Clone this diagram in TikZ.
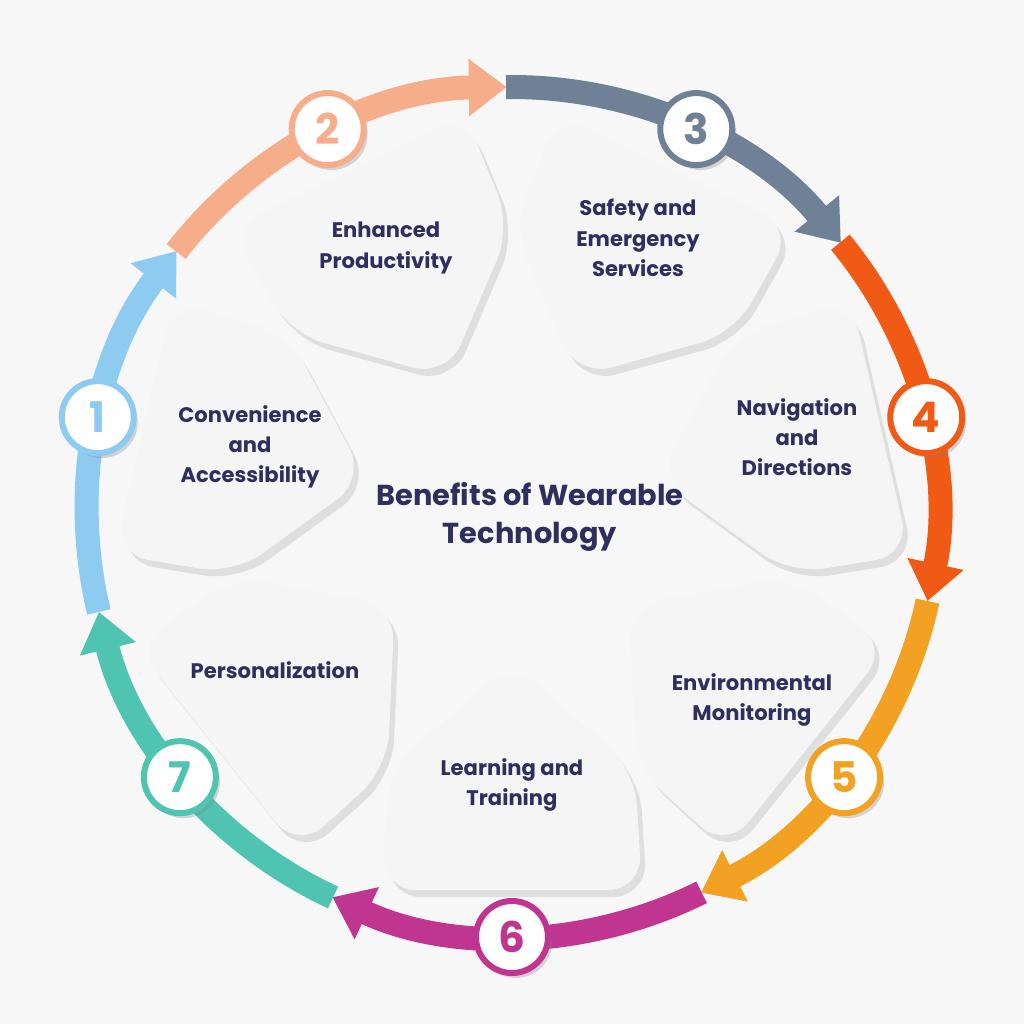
\documentclass[tikz,border=0pt]{standalone}
\usepackage{fontspec}
\setmainfont{Poppins}
\usetikzlibrary{arrows.meta,shadows}
\definecolor{bg}{HTML}{F7F7F7}
\definecolor{ink}{HTML}{2E2F5E}
\definecolor{cA}{HTML}{8DCBF0}
\definecolor{cB}{HTML}{F6AE8A}
\definecolor{cC}{HTML}{6E8197}
\definecolor{cD}{HTML}{F05A14}
\definecolor{cE}{HTML}{F2A122}
\definecolor{cF}{HTML}{C0358F}
\definecolor{cG}{HTML}{4FC4B0}
\begin{document}
\begin{tikzpicture}[card/.style={fill=white!92!gray, rounded corners=0.35cm,
      drop shadow={opacity=0.2, shadow xshift=0.05cm, shadow yshift=-0.07cm}},
    num/.style={circle, draw, line width=0.06cm, fill=white, minimum size=0.72cm,
      inner sep=0pt, font=\fontsize{12}{12}\selectfont\bfseries,
      drop shadow={opacity=0.3, shadow xshift=0.04cm, shadow yshift=-0.05cm}},
    lbl/.style={align=center, text=ink, font=\fontsize{6}{8.6}\selectfont\bfseries}]
  \fill[bg] (-5.12,-5.12) rectangle (5.12,5.12);
  \useasboundingbox (-5.12,-5.12) rectangle (5.12,5.12);
  % ring
  \foreach \a/\c in {167.1/cA, 115.7/cB, 64.3/cC, 12.9/cD, -38.6/cE, -90/cF, -141.4/cG}
    \draw[\c, line width=0.24cm, -{Triangle[width=0.55cm, length=0.38cm]}]
      (\a+26.5:4.25) arc[start angle=\a+26.5, end angle=\a-25, radius=4.25];
  % cards
  \foreach \a in {167.1, 115.7, 64.3, 12.9, -38.6, -90, -141.4}
    \fill[card] (\a:1.5) -- (\a+25.5:2.85) -- (\a+19:4.0) -- (\a-19:4.0)
      -- (\a-25.5:2.85) -- cycle;
  % numbers
  \foreach \a/\c/\n in {167.1/cA/1, 115.7/cB/2, 64.3/cC/3, 12.9/cD/4,
      -38.6/cE/5, -90/cF/6, -141.4/cG/7}
    \node[num, draw=\c, text=\c] (n\n) at (\a:4.25) {\n};
  % labels
  \node[lbl] (t1) at (-2.62,0.65) {Convenience\\and\\Accessibility};
  \node[lbl] (t2) at (-1.26,2.64) {Enhanced\\Productivity};
  \node[lbl] (t3) at (1.26,2.74) {Safety and\\Emergency\\Services};
  \node[lbl] (t4) at (2.85,0.75) {Navigation\\and\\Directions};
  \node[lbl] (t5) at (2.40,-1.88) {Environmental\\Monitoring};
  \node[lbl] (t6) at (0.0,-2.73) {Learning and\\Training};
  \node[lbl] (t7) at (-2.37,-1.58) {Personalization};
  \node[lbl, font=\fontsize{8.2}{11}\selectfont\bfseries] (title) at (0.18,-0.05)
    {Benefits of Wearable\\Technology};
\end{tikzpicture}
\end{document}
